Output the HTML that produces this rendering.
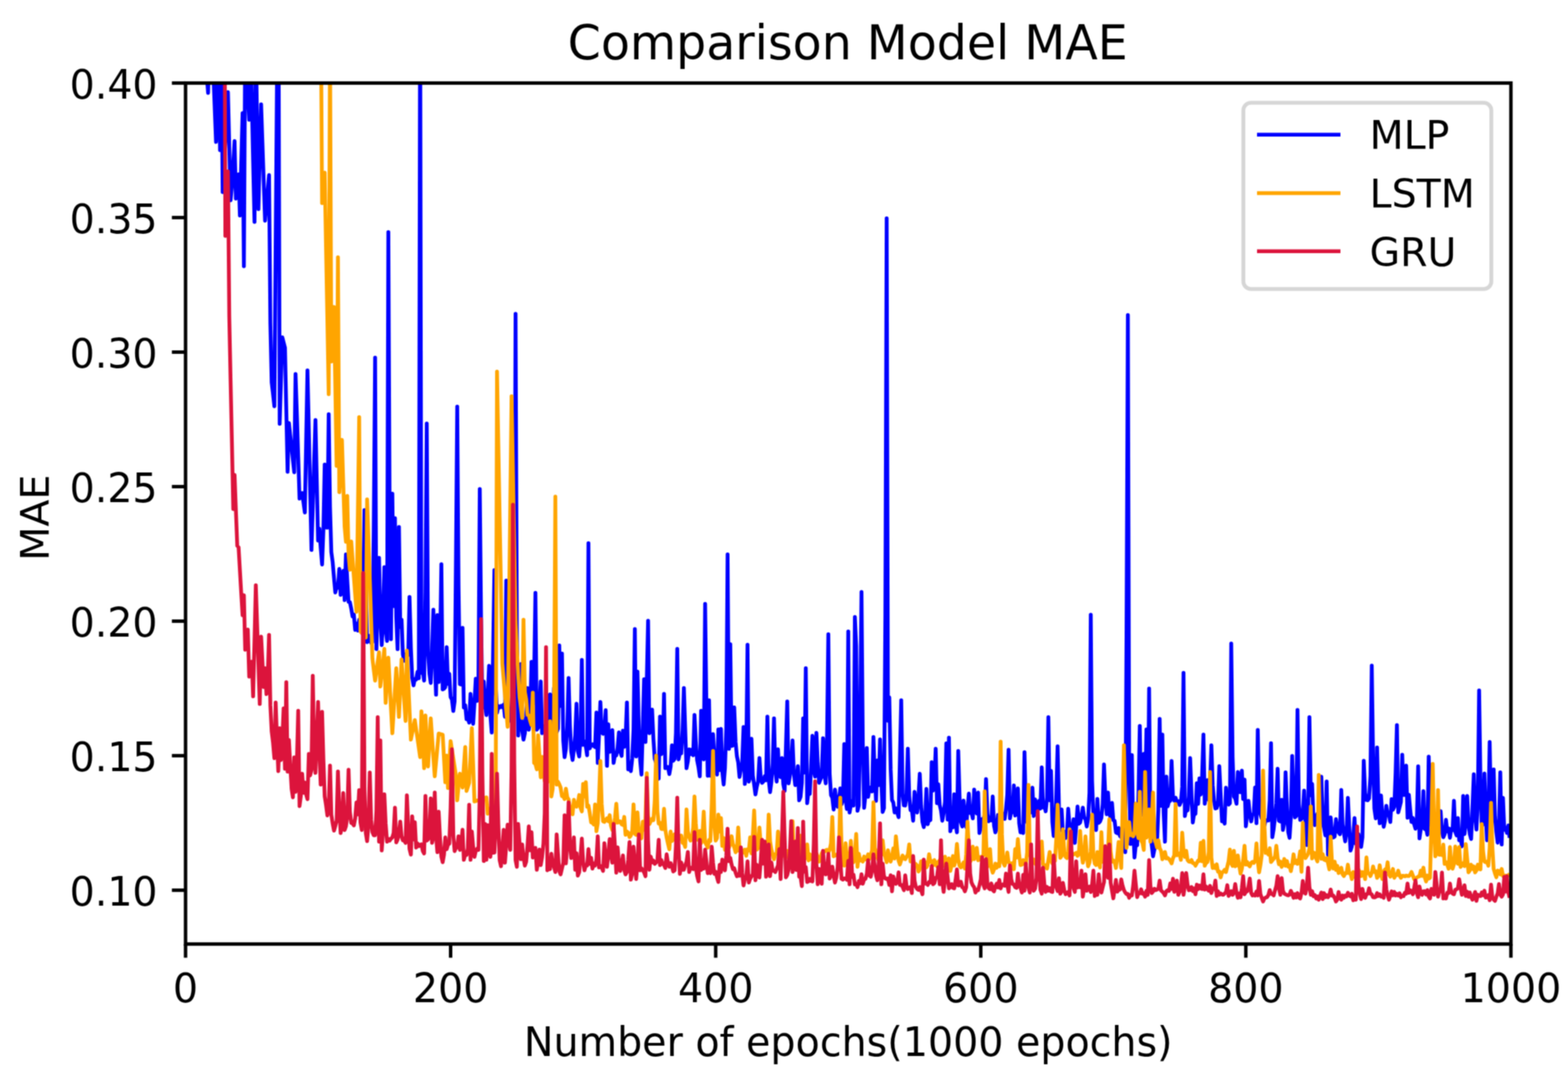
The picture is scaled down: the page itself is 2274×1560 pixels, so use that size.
<!DOCTYPE html>
<html lang="en"><head><meta charset="utf-8"><title>Comparison Model MAE</title>
<style>
html,body{margin:0;padding:0;background:#fff;}
body{width:2274px;height:1560px;overflow:hidden;}
svg{display:block;}
text{font-family:"DejaVu Sans","Liberation Sans",sans-serif;fill:#000;}
.tick{font-size:57.2px;}
.lab{font-size:57.4px;}
.title{font-size:68.8px;}
.leg{font-size:57.2px;}
</style></head><body>
<svg xmlns="http://www.w3.org/2000/svg" width="2274" height="1560" viewBox="0 0 2274 1560">
<defs><filter id="soft" x="0" y="0" width="2274" height="1560" filterUnits="userSpaceOnUse" color-interpolation-filters="sRGB"><feConvolveMatrix order="3" kernelMatrix="1 2 1 2 4 2 1 2 1" divisor="16" edgeMode="duplicate" preserveAlpha="true"/></filter><clipPath id="ax"><rect x="269.1" y="120.4" width="1922.1" height="1248.3"/></clipPath></defs>
<g filter="url(#soft)">
<rect width="2274" height="1560" fill="#fff"/>
<g clip-path="url(#ax)">
<polyline points="296.0,59.2 297.9,84.4 299.9,109.6 301.8,134.7 303.7,59.2 305.6,59.2 307.5,59.2 309.5,108.1 311.4,156.9 313.3,205.8 315.2,132.5 317.1,59.2 319.1,217.7 321.0,59.2 322.9,278.6 324.8,242.3 326.8,206.0 328.7,169.8 330.6,133.5 332.5,212.0 334.4,290.4 336.4,270.1 338.3,237.3 340.2,204.6 342.1,287.9 344.1,270.4 346.0,252.8 347.9,312.4 349.8,238.2 351.8,164.0 353.7,386.0 355.6,59.2 357.5,97.4 359.4,135.5 361.4,173.7 363.3,59.2 365.2,146.7 367.1,234.2 369.1,321.7 371.0,59.2 372.9,181.2 374.8,303.1 376.7,227.2 378.7,151.3 380.6,207.5 382.5,263.8 384.4,320.0 386.4,297.9 388.3,275.8 390.2,253.7 392.1,468.8 394.0,554.4 396.0,571.8 397.9,589.1 399.8,353.2 401.7,117.4 403.6,-118.5 405.6,614.5 407.5,551.7 409.4,488.9 411.3,496.5 413.3,504.1 415.2,594.0 417.1,683.9 419.0,613.3 420.9,631.1 422.9,649.0 424.8,666.9 426.7,684.7 428.6,542.2 430.6,602.4 432.5,662.6 434.4,722.8 436.3,718.8 438.2,714.8 440.2,729.0 442.1,743.1 444.0,640.1 445.9,537.1 447.9,623.8 449.8,710.6 451.7,797.3 453.6,734.5 455.5,671.8 457.5,609.1 459.4,696.4 461.3,783.7 463.2,766.4 465.1,794.0 467.1,818.4 469.0,768.7 470.9,673.4 472.8,764.8 474.8,765.1 476.7,600.6 478.6,735.0 480.5,800.4 482.4,814.5 484.4,838.1 486.3,859.0 488.2,850.8 490.1,851.8 492.1,824.8 494.0,862.4 495.9,858.1 497.8,827.4 499.8,870.0 501.7,803.7 503.6,840.3 505.5,872.6 507.4,873.0 509.4,882.5 511.3,893.7 513.2,891.0 515.1,913.2 517.0,904.0 519.0,914.2 520.9,898.5 522.8,900.8 524.7,908.6 526.7,877.9 528.6,739.4 530.5,846.1 532.4,931.0 534.4,929.1 536.3,921.8 538.2,932.1 540.1,931.1 542.0,769.0 544.0,518.5 545.9,941.1 547.8,875.8 549.7,808.8 551.6,896.4 553.6,935.2 555.5,897.6 557.4,822.3 559.3,913.1 561.3,929.3 563.2,336.6 565.1,754.8 567.0,926.7 569.0,715.7 570.9,878.8 572.8,751.2 574.7,894.3 576.6,941.1 578.6,763.9 580.5,909.1 582.4,898.4 584.3,949.0 586.2,958.0 588.2,948.5 590.1,950.2 592.0,949.9 593.9,865.4 595.9,939.3 597.8,982.7 599.7,993.6 601.6,984.5 603.5,985.1 605.5,974.0 607.4,983.4 609.3,-8.5 611.2,975.4 613.2,973.0 615.1,986.8 617.0,858.5 618.9,614.1 620.8,945.1 622.8,976.6 624.7,990.2 626.6,939.3 628.5,884.1 630.5,953.4 632.4,1007.1 634.3,891.7 636.2,988.8 638.1,945.0 640.1,818.0 642.0,999.5 643.9,998.6 645.8,996.2 647.8,938.2 649.7,991.5 651.6,977.1 653.5,1010.6 655.4,1014.1 657.4,1030.8 659.3,1016.8 661.2,817.2 663.1,589.6 665.0,849.2 667.0,991.9 668.9,992.5 670.8,910.3 672.7,1025.7 674.7,1022.3 676.6,1042.7 678.5,1040.7 680.4,1047.7 682.4,1005.9 684.3,1031.6 686.2,1049.4 688.1,1018.6 690.0,983.9 692.0,1016.2 693.9,983.6 695.8,708.9 697.7,899.0 699.6,1026.1 701.6,988.1 703.5,1022.0 705.4,1036.7 707.3,1010.1 709.3,965.3 711.2,1037.0 713.1,1062.1 715.0,953.3 717.0,826.5 718.9,991.2 720.8,1033.5 722.7,1023.8 724.6,1025.7 726.6,1023.5 728.5,1025.3 730.4,1021.5 732.3,1039.3 734.2,841.8 736.2,1008.4 738.1,1039.5 740.0,1031.3 741.9,1046.7 743.9,1046.0 745.8,962.8 747.7,455.1 749.6,915.6 751.5,1066.3 753.5,1019.5 755.4,962.7 757.3,1059.5 759.2,1072.3 761.2,1063.1 763.1,1038.2 765.0,997.4 766.9,1057.9 768.9,1039.1 770.8,959.4 772.7,1021.6 774.6,982.2 776.5,859.5 778.5,1057.9 780.4,1055.2 782.3,1026.9 784.2,988.1 786.1,1063.0 788.1,1053.1 790.0,1056.3 791.9,1049.5 793.8,1053.8 795.8,1045.0 797.7,1006.7 799.6,1056.4 801.5,1063.0 803.4,997.4 805.4,1048.2 807.3,1061.6 809.2,1056.5 811.1,935.7 813.0,1023.6 815.0,947.5 816.9,1073.8 818.8,1097.7 820.7,1085.8 822.7,1052.6 824.6,983.0 826.5,1050.7 828.4,1089.5 830.4,1101.9 832.3,1086.9 834.2,1066.3 836.1,1020.3 838.0,1088.5 840.0,1096.8 841.9,1071.4 843.8,956.8 845.7,1079.9 847.6,1074.8 849.6,1082.0 851.5,1095.1 853.4,787.6 855.3,1085.0 857.3,1079.5 859.2,1079.1 861.1,1081.6 863.0,1083.2 865.0,1033.0 866.9,1106.1 868.8,1064.1 870.7,1017.7 872.6,1062.0 874.6,1063.8 876.5,1059.6 878.4,1029.6 880.3,1110.3 882.2,1049.9 884.2,1090.0 886.1,1089.1 888.0,1058.4 889.9,1106.1 891.9,1094.4 893.8,1095.1 895.7,1084.2 897.6,1061.7 899.5,1090.0 901.5,1096.0 903.4,1059.2 905.3,1082.7 907.2,1071.2 909.2,1018.6 911.1,1115.4 913.0,1107.1 914.9,1118.0 916.9,1099.7 918.8,1057.7 920.7,912.0 922.6,1096.8 924.5,973.7 926.5,1057.1 928.4,1102.7 930.3,1123.0 932.2,1056.0 934.1,984.7 936.1,1075.7 938.0,986.9 939.9,900.1 941.8,1063.0 943.8,1055.2 945.7,1028.7 947.6,1070.9 949.5,1100.2 951.5,1105.9 953.4,1114.2 955.3,1129.0 957.2,1038.9 959.1,1093.3 961.1,1088.9 963.0,1005.9 964.9,1113.7 966.8,1111.9 968.7,1112.0 970.7,1122.2 972.6,1111.5 974.5,1080.4 976.4,1103.0 978.4,1100.2 980.3,1062.6 982.2,940.7 984.1,1101.0 986.0,1092.0 988.0,1092.1 989.9,1058.6 991.8,997.4 993.7,1056.1 995.6,1113.7 997.6,1103.6 999.5,1086.5 1001.4,1093.4 1003.3,1086.8 1005.3,1095.0 1007.2,1036.4 1009.1,1074.7 1011.0,1102.3 1013.0,1112.3 1014.9,1125.6 1016.8,1030.4 1018.7,1092.8 1020.6,1101.0 1022.6,875.6 1024.5,1027.0 1026.4,1124.7 1028.3,1015.2 1030.2,1124.7 1032.2,1118.4 1034.1,1064.3 1036.0,1095.8 1037.9,1113.9 1039.9,1123.0 1041.8,1057.5 1043.7,1116.4 1045.6,1056.7 1047.5,1118.6 1049.5,1137.4 1051.4,1113.2 1053.3,1055.3 1055.2,803.7 1057.2,1085.8 1059.1,934.0 1061.0,1081.6 1062.9,1080.5 1064.8,1025.4 1066.8,1075.7 1068.7,1096.4 1070.6,1105.4 1072.5,1126.4 1074.5,1115.7 1076.4,1105.7 1078.3,1054.1 1080.2,1136.6 1082.2,1098.6 1084.1,934.8 1086.0,1133.2 1087.9,1126.7 1089.8,1071.0 1091.8,1124.5 1093.7,1137.7 1095.6,1151.8 1097.5,1140.8 1099.5,1132.7 1101.4,1099.0 1103.3,1128.2 1105.2,1134.9 1107.1,1133.1 1109.1,1125.2 1111.0,1131.1 1112.9,1038.9 1114.8,1130.3 1116.8,1148.4 1118.7,1133.8 1120.6,1107.6 1122.5,1041.4 1124.4,1116.7 1126.4,1133.2 1128.3,1086.3 1130.2,1123.9 1132.1,1126.7 1134.0,1099.0 1136.0,1137.0 1137.9,1146.7 1139.8,1084.2 1141.7,1016.9 1143.7,1135.7 1145.6,1124.4 1147.5,1105.9 1149.4,1073.6 1151.3,1121.1 1153.3,1138.3 1155.2,1134.9 1157.1,1110.8 1159.0,1160.3 1161.0,1155.2 1162.9,1135.1 1164.8,1041.4 1166.7,1120.1 1168.6,968.7 1170.6,1164.5 1172.5,1147.4 1174.4,1151.0 1176.3,1111.1 1178.2,1066.8 1180.2,1117.2 1182.1,1126.0 1184.0,1062.6 1185.9,1106.5 1187.9,1134.9 1189.8,1129.9 1191.7,1126.3 1193.6,1070.2 1195.5,1120.1 1197.5,1135.7 1199.4,1070.2 1201.3,919.6 1203.2,1121.1 1205.2,1152.8 1207.1,1156.6 1209.0,1173.8 1210.9,1144.7 1212.8,1159.9 1214.8,1169.6 1216.7,1161.2 1218.6,1143.0 1220.5,1166.0 1222.5,1159.0 1224.4,1078.7 1226.3,1158.6 1228.2,1173.0 1230.2,915.4 1232.1,1178.0 1234.0,1167.1 1235.9,1161.4 1237.8,1167.9 1239.8,894.5 1241.7,936.5 1243.6,1175.5 1245.5,1167.8 1247.5,1033.2 1249.4,858.2 1251.3,1077.5 1253.2,1171.3 1255.1,1152.5 1257.1,1084.6 1259.0,1155.2 1260.9,1143.2 1262.8,1141.6 1264.8,1147.4 1266.7,1068.5 1268.6,1124.5 1270.5,1161.1 1272.4,1102.4 1274.4,1138.2 1276.3,1071.9 1278.2,1134.2 1280.1,1177.2 1282.0,1171.7 1284.0,889.5 1285.9,316.6 1287.8,1044.9 1289.7,1011.0 1291.7,1115.4 1293.6,1159.9 1295.5,1163.5 1297.4,1178.0 1299.3,1171.9 1301.3,1178.5 1303.2,1184.8 1305.1,1100.4 1307.0,1015.2 1309.0,1150.6 1310.9,1167.6 1312.8,1167.9 1314.7,1152.9 1316.6,1085.4 1318.6,1153.5 1320.5,1174.6 1322.4,1173.9 1324.3,1189.9 1326.3,1148.1 1328.2,1165.3 1330.1,1178.0 1332.0,1155.3 1333.9,1121.8 1335.9,1168.8 1337.8,1191.5 1339.7,1199.2 1341.6,1188.7 1343.5,1143.8 1345.5,1195.0 1347.4,1186.1 1349.3,1189.0 1351.2,1104.9 1353.2,1146.2 1355.1,1131.5 1357.0,1085.4 1358.9,1164.5 1360.8,1137.1 1362.8,1167.2 1364.7,1175.2 1366.6,1189.9 1368.5,1179.0 1370.5,1162.6 1372.4,1077.8 1374.3,1188.2 1376.2,1069.4 1378.2,1205.1 1380.1,1193.0 1382.0,1199.5 1383.9,1151.4 1385.8,1194.0 1387.8,1206.8 1389.7,1088.8 1391.6,1154.8 1393.5,1191.8 1395.5,1198.3 1397.4,1160.8 1399.3,1182.5 1401.2,1199.2 1403.1,1173.8 1405.1,1150.6 1407.0,1178.8 1408.9,1177.6 1410.8,1186.5 1412.8,1144.7 1414.7,1173.4 1416.6,1179.5 1418.5,1148.9 1420.4,1207.7 1422.4,1198.1 1424.3,1187.5 1426.2,1188.5 1428.1,1180.6 1430.0,1129.4 1432.0,1180.6 1433.9,1190.7 1435.8,1186.2 1437.7,1189.4 1439.7,1154.8 1441.6,1196.9 1443.5,1206.8 1445.4,1199.9 1447.3,1181.5 1449.3,1182.7 1451.2,1191.1 1453.1,1182.2 1455.0,1179.8 1457.0,1187.3 1458.9,1173.5 1460.8,1152.1 1462.7,1087.1 1464.7,1186.5 1466.6,1175.7 1468.5,1177.6 1470.4,1138.8 1472.3,1182.3 1474.3,1180.2 1476.2,1143.0 1478.1,1193.6 1480.0,1206.8 1482.0,1198.7 1483.9,1207.7 1485.8,1090.5 1487.7,1174.9 1489.6,1192.5 1491.6,1179.6 1493.5,1174.8 1495.4,1177.8 1497.3,1142.1 1499.2,1183.1 1501.2,1159.1 1503.1,1176.8 1505.0,1174.7 1506.9,1161.0 1508.8,1172.2 1510.8,1112.5 1512.7,1170.7 1514.6,1167.7 1516.5,1176.3 1518.5,1156.1 1520.4,1039.7 1522.3,1160.2 1524.2,1117.6 1526.2,1192.0 1528.1,1211.9 1530.0,1205.3 1531.9,1151.9 1533.8,1082.0 1535.8,1171.6 1537.7,1203.4 1539.6,1173.4 1541.5,1208.1 1543.5,1205.7 1545.4,1215.0 1547.3,1210.2 1549.2,1172.6 1551.1,1197.2 1553.1,1202.9 1555.0,1206.6 1556.9,1187.8 1558.8,1222.0 1560.8,1198.0 1562.7,1169.2 1564.6,1194.2 1566.5,1192.4 1568.4,1183.5 1570.4,1170.9 1572.3,1184.9 1574.2,1188.0 1576.1,1198.3 1578.0,1187.6 1580.0,1149.2 1581.9,891.3 1583.8,1131.8 1585.7,1182.0 1587.7,1193.9 1589.6,1203.4 1591.5,1158.2 1593.4,1193.0 1595.3,1191.1 1597.3,1185.7 1599.2,1165.8 1601.1,1108.3 1603.0,1154.6 1605.0,1180.6 1606.9,1148.9 1608.8,1179.9 1610.7,1185.0 1612.7,1164.1 1614.6,1189.1 1616.5,1190.2 1618.4,1206.8 1620.3,1208.0 1622.3,1200.5 1624.2,1212.1 1626.1,1213.9 1628.0,1209.3 1630.0,1217.9 1631.9,1235.6 1633.8,911.6 1635.7,456.7 1637.6,1113.9 1639.6,1223.6 1641.5,1094.8 1643.4,1199.3 1645.3,1243.2 1647.2,1224.5 1649.2,1225.4 1651.1,1151.8 1653.0,1052.4 1654.9,1172.4 1656.9,1181.1 1658.8,1093.0 1660.7,1160.9 1662.6,1057.5 1664.5,1211.9 1666.5,998.3 1668.4,1201.0 1670.3,1225.0 1672.2,1241.5 1674.2,1231.4 1676.1,1219.6 1678.0,1221.7 1679.9,1174.5 1681.8,1042.3 1683.8,1168.3 1685.7,1065.1 1687.6,1177.9 1689.5,1220.3 1691.5,1126.1 1693.4,1169.1 1695.3,1161.7 1697.2,1161.1 1699.1,1103.2 1701.1,1155.0 1703.0,1160.8 1704.9,1156.5 1706.8,1162.6 1708.8,1161.6 1710.7,1167.0 1712.6,1162.9 1714.5,1140.4 1716.4,975.4 1718.4,1183.1 1720.3,1171.1 1722.2,1175.1 1724.1,1154.6 1726.0,1099.0 1728.0,1152.0 1729.9,1192.4 1731.8,1179.1 1733.7,1179.8 1735.7,1135.4 1737.6,1165.4 1739.5,1128.6 1741.4,1151.9 1743.3,1126.5 1745.3,1065.1 1747.2,1165.3 1749.1,1151.8 1751.0,1131.1 1753.0,1159.6 1754.9,1135.9 1756.8,1080.4 1758.7,1138.2 1760.7,1161.0 1762.6,1172.1 1764.5,1171.5 1766.4,1165.3 1768.3,1110.8 1770.3,1152.7 1772.2,1190.7 1774.1,1183.4 1776.0,1194.1 1778.0,1142.1 1779.9,1164.4 1781.8,1166.5 1783.7,1164.5 1785.6,933.1 1787.6,1098.1 1789.5,1154.7 1791.4,1157.7 1793.3,1165.3 1795.2,1119.3 1797.2,1148.1 1799.1,1148.5 1801.0,1117.2 1802.9,1158.4 1804.9,1130.3 1806.8,1197.9 1808.7,1180.9 1810.6,1161.1 1812.5,1179.5 1814.5,1190.9 1816.4,1181.1 1818.3,1179.9 1820.2,1141.8 1822.2,1193.5 1824.1,1058.2 1826.0,1157.0 1827.9,1180.4 1829.8,1186.6 1831.8,1183.7 1833.7,1197.2 1835.6,1189.2 1837.5,1189.6 1839.5,1189.6 1841.4,1160.8 1843.3,1077.6 1845.2,1213.8 1847.1,1202.2 1849.1,1184.7 1851.0,1164.4 1852.9,1114.5 1854.8,1190.0 1856.8,1190.9 1858.7,1159.4 1860.6,1203.2 1862.5,1193.1 1864.4,1119.8 1866.4,1169.8 1868.3,1206.5 1870.2,1214.7 1872.1,1184.8 1874.0,1096.0 1876.0,1156.2 1877.9,1185.0 1879.8,1183.0 1881.7,1029.2 1883.7,1166.1 1885.6,1188.8 1887.5,1187.1 1889.4,1181.0 1891.3,1146.2 1893.3,1194.9 1895.2,1225.2 1897.1,1179.6 1899.0,1039.8 1901.0,1153.0 1902.9,1136.5 1904.8,1186.4 1906.7,1196.2 1908.7,1184.4 1910.6,1179.5 1912.5,1197.5 1914.4,1180.5 1916.3,1126.0 1918.3,1191.4 1920.2,1200.3 1922.1,1211.1 1924.0,1133.0 1926.0,1239.3 1927.9,1222.9 1929.8,1185.0 1931.7,1207.1 1933.6,1214.2 1935.6,1212.9 1937.5,1187.6 1939.4,1200.4 1941.3,1206.7 1943.2,1209.4 1945.2,1145.3 1947.1,1195.3 1949.0,1208.2 1950.9,1219.9 1952.9,1205.1 1954.8,1156.7 1956.7,1197.6 1958.6,1233.1 1960.5,1227.2 1962.5,1212.6 1964.4,1185.9 1966.3,1223.2 1968.2,1209.0 1970.2,1209.5 1972.1,1224.3 1974.0,1227.8 1975.9,1213.8 1977.8,1103.1 1979.8,1149.4 1981.7,1159.9 1983.6,1160.3 1985.5,1157.5 1987.5,1124.8 1989.4,965.0 1991.3,1097.4 1993.2,1172.2 1995.2,1186.5 1997.1,1083.7 1999.0,1159.6 2000.9,1193.5 2002.8,1153.2 2004.8,1182.7 2006.7,1198.8 2008.6,1189.8 2010.5,1168.2 2012.4,1181.5 2014.4,1182.0 2016.3,1191.8 2018.2,1158.5 2020.1,1174.1 2022.1,1169.8 2024.0,1120.6 2025.9,1051.2 2027.8,1177.7 2029.7,1170.5 2031.7,1162.5 2033.6,1094.3 2035.5,1152.5 2037.4,1152.5 2039.3,1110.1 2041.3,1185.6 2043.2,1152.3 2045.1,1173.5 2047.0,1191.8 2049.0,1185.9 2050.9,1194.9 2052.8,1201.5 2054.7,1192.6 2056.7,1111.0 2058.6,1215.5 2060.5,1202.2 2062.4,1199.2 2064.3,1147.1 2066.3,1201.9 2068.2,1200.7 2070.1,1210.3 2072.0,1096.9 2073.9,1172.3 2075.9,1197.7 2077.8,1199.8 2079.7,1191.0 2081.6,1194.7 2083.6,1205.3 2085.5,1193.3 2087.4,1205.5 2089.3,1176.1 2091.2,1206.4 2093.2,1213.8 2095.1,1209.5 2097.0,1188.5 2098.9,1205.6 2100.9,1201.0 2102.8,1214.7 2104.7,1201.8 2106.6,1203.5 2108.6,1161.1 2110.5,1205.9 2112.4,1211.1 2114.3,1185.9 2116.2,1218.2 2118.2,1214.7 2120.1,1227.0 2122.0,1154.1 2123.9,1209.2 2125.8,1190.2 2127.8,1154.1 2129.7,1195.7 2131.6,1209.4 2133.5,1216.4 2135.5,1169.9 2137.4,1122.4 2139.3,1183.1 2141.2,1202.8 2143.2,1163.0 2145.1,1001.1 2147.0,1129.3 2148.9,1197.6 2150.8,1195.3 2152.8,1121.6 2154.7,1182.8 2156.6,1218.2 2158.5,1184.9 2160.4,1075.8 2162.4,1180.4 2164.3,1190.0 2166.2,1115.4 2168.1,1184.5 2170.1,1206.5 2172.0,1221.7 2173.9,1197.6 2175.8,1119.8 2177.8,1224.3 2179.7,1156.7 2181.6,1203.0 2183.5,1199.8 2185.4,1207.6 2187.4,1196.7 2189.3,1214.7" fill="none" stroke="#0000ff" stroke-width="5.5" stroke-linejoin="round" stroke-linecap="butt"/>
<polyline points="463.2,-313.1 465.1,-9.2 467.1,294.6 469.0,272.5 470.9,250.3 472.8,357.3 474.8,464.3 476.7,571.4 478.6,59.2 480.5,524.0 482.4,484.4 484.4,444.9 486.3,560.2 488.2,675.4 490.1,373.0 492.1,713.5 494.0,675.7 495.9,637.8 497.8,700.6 499.8,763.4 501.7,785.4 503.6,719.0 505.5,804.0 507.4,826.0 509.4,785.0 511.3,810.5 513.2,836.0 515.1,861.5 517.0,887.0 519.0,745.9 520.9,604.8 522.8,915.7 524.7,917.8 526.7,920.0 528.6,922.1 530.5,924.2 532.4,724.1 534.4,781.8 536.3,839.4 538.2,897.0 540.1,954.6 542.0,970.7 544.0,986.8 545.9,973.1 547.8,959.5 549.7,945.8 551.6,995.3 553.6,977.1 555.5,958.9 557.4,940.7 559.3,1019.0 561.3,986.2 563.2,953.4 565.1,989.9 567.0,1026.5 569.0,1063.0 570.9,1031.5 572.8,1000.1 574.7,968.7 576.6,1004.0 578.6,1039.3 580.5,997.6 582.4,956.0 584.3,985.7 586.2,1015.5 588.2,1045.2 590.1,943.3 592.0,986.3 593.9,1029.3 595.9,1072.3 597.8,1062.8 599.7,1053.4 601.6,1044.0 603.5,1057.4 605.5,1070.8 607.4,1084.2 609.3,1097.7 611.2,1031.3 613.2,1072.5 615.1,1113.7 617.0,1037.2 618.9,1074.2 620.8,1111.2 622.8,1076.3 624.7,1041.4 626.6,1069.5 628.5,1097.5 630.5,1125.6 632.4,1104.9 634.3,1084.2 636.2,1063.4 638.1,1064.0 640.1,1064.6 642.0,1065.1 643.9,1099.6 645.8,1134.0 647.8,1095.6 649.7,1142.5 651.6,1108.5 653.5,1074.4 655.4,1086.9 657.4,1099.4 659.3,1111.9 661.2,1124.3 663.1,1160.3 665.0,1140.0 667.0,1121.8 668.9,1131.7 670.8,1141.7 672.7,1112.3 674.7,1082.9 676.6,1146.7 678.5,1140.8 680.4,1134.9 682.4,1095.3 684.3,1055.8 686.2,1108.9 688.1,1162.0 690.0,1161.3 692.0,1160.6 693.9,1160.0 695.8,1159.3 697.7,1158.7 699.6,1158.0 701.6,1157.3 703.5,1156.7 705.4,1156.0 707.3,1179.7 709.3,1176.3 711.2,1172.9 713.1,1169.5 715.0,1166.1 717.0,1162.7 718.9,1159.2 720.8,538.8 722.7,644.6 724.6,750.4 726.6,856.1 728.5,961.9 730.4,984.8 732.3,1007.8 734.2,1030.7 736.2,1053.7 738.1,893.9 740.0,734.1 741.9,574.4 743.9,683.6 745.8,792.8 747.7,902.0 749.6,940.1 751.5,978.2 753.5,1010.3 755.4,1025.6 757.3,1041.0 759.2,898.4 761.2,1003.5 763.1,1014.0 765.0,1036.4 766.9,1037.3 768.9,1045.2 770.8,1051.2 772.7,1004.2 774.6,1106.1 776.5,1107.6 778.5,1115.4 780.4,1066.0 782.3,1094.8 784.2,1126.9 786.1,1097.3 788.1,1121.1 790.0,1132.5 791.9,1129.3 793.8,1134.3 795.8,1121.3 797.7,1045.7 799.6,1154.8 801.5,1144.1 803.4,1045.8 805.4,719.9 807.3,1137.4 809.2,1133.2 811.1,1137.0 813.0,1141.8 815.0,1154.3 816.9,1154.3 818.8,1158.5 820.7,1143.5 822.7,1156.0 824.6,1159.0 826.5,1171.7 828.4,1169.9 830.4,1180.6 832.3,1159.4 834.2,1168.2 836.1,1169.6 838.0,1165.0 840.0,1152.6 841.9,1171.1 843.8,1176.3 845.7,1136.5 847.6,1154.7 849.6,1134.0 851.5,1169.6 853.4,1168.0 855.3,1178.8 857.3,1192.4 859.2,1192.8 861.1,1195.3 863.0,1166.2 865.0,1205.1 866.9,1193.5 868.8,1156.3 870.7,1103.2 872.6,1165.4 874.6,1190.7 876.5,1191.6 878.4,1189.0 880.3,1186.3 882.2,1190.7 884.2,1181.9 886.1,1197.1 888.0,1203.4 889.9,1199.7 891.9,1185.6 893.8,1165.3 895.7,1192.8 897.6,1190.9 899.5,1190.8 901.5,1195.0 903.4,1196.0 905.3,1184.4 907.2,1210.2 909.2,1205.5 911.1,1207.4 913.0,1213.6 914.9,1211.4 916.9,1203.9 918.8,1166.2 920.7,1208.9 922.6,1210.5 924.5,1177.7 926.5,1206.2 928.4,1210.2 930.3,1215.3 932.2,1191.2 934.1,1203.0 936.1,1187.4 938.0,1121.0 939.9,1182.3 941.8,1194.9 943.8,1190.5 945.7,1187.0 947.6,1189.0 949.5,1162.3 951.5,1095.6 953.4,1175.7 955.3,1194.1 957.2,1192.8 959.1,1201.7 961.1,1202.0 963.0,1172.6 964.9,1202.7 966.8,1214.1 968.7,1222.9 970.7,1231.3 972.6,1205.6 974.5,1219.3 976.4,1217.0 978.4,1209.5 980.3,1215.1 982.2,1215.3 984.1,1211.0 986.0,1215.8 988.0,1211.4 989.9,1221.9 991.8,1221.6 993.7,1228.0 995.6,1173.4 997.6,1205.2 999.5,1214.0 1001.4,1218.7 1003.3,1216.9 1005.3,1199.5 1007.2,1154.8 1009.1,1193.9 1011.0,1217.6 1013.0,1217.6 1014.9,1204.7 1016.8,1222.5 1018.7,1210.7 1020.6,1176.8 1022.6,1221.3 1024.5,1224.6 1026.4,1228.8 1028.3,1217.9 1030.2,1219.4 1032.2,1166.5 1034.1,1088.8 1036.0,1194.0 1037.9,1218.7 1039.9,1214.9 1041.8,1181.0 1043.7,1205.5 1045.6,1186.1 1047.5,1226.3 1049.5,1214.9 1051.4,1232.2 1053.3,1224.6 1055.2,1227.3 1057.2,1229.0 1059.1,1223.2 1061.0,1212.4 1062.9,1223.9 1064.8,1228.3 1066.8,1235.6 1068.7,1232.3 1070.6,1199.7 1072.5,1233.7 1074.5,1230.4 1076.4,1237.0 1078.3,1233.9 1080.2,1231.8 1082.2,1240.7 1084.1,1231.3 1086.0,1232.9 1087.9,1214.0 1089.8,1237.3 1091.8,1212.2 1093.7,1175.1 1095.6,1220.4 1097.5,1231.8 1099.5,1229.8 1101.4,1199.7 1103.3,1224.5 1105.2,1227.9 1107.1,1229.1 1109.1,1238.8 1111.0,1237.7 1112.9,1233.9 1114.8,1181.0 1116.8,1219.7 1118.7,1231.4 1120.6,1239.2 1122.5,1245.7 1124.4,1238.3 1126.4,1237.1 1128.3,1205.6 1130.2,1229.2 1132.1,1241.1 1134.0,1241.5 1136.0,1236.2 1137.9,1236.1 1139.8,1243.3 1141.7,1233.8 1143.7,1239.8 1145.6,1242.1 1147.5,1228.2 1149.4,1190.4 1151.3,1240.6 1153.3,1238.3 1155.2,1237.6 1157.1,1233.9 1159.0,1242.9 1161.0,1211.5 1162.9,1240.1 1164.8,1240.5 1166.7,1238.4 1168.6,1244.1 1170.6,1224.2 1172.5,1247.4 1174.4,1238.4 1176.3,1245.7 1178.2,1239.7 1180.2,1241.1 1182.1,1241.4 1184.0,1237.3 1185.9,1242.1 1187.9,1249.1 1189.8,1246.2 1191.7,1237.4 1193.6,1234.2 1195.5,1234.9 1197.5,1232.9 1199.4,1232.1 1201.3,1236.1 1203.2,1232.2 1205.2,1222.5 1207.1,1184.4 1209.0,1241.5 1210.9,1240.3 1212.8,1239.0 1214.8,1241.2 1216.7,1236.7 1218.6,1156.5 1220.5,1230.3 1222.5,1247.1 1224.4,1255.0 1226.3,1222.5 1228.2,1247.1 1230.2,1252.6 1232.1,1245.2 1234.0,1219.1 1235.9,1247.9 1237.8,1249.9 1239.8,1237.3 1241.7,1209.0 1243.6,1256.7 1245.5,1237.7 1247.5,1247.8 1249.4,1246.4 1251.3,1249.1 1253.2,1241.8 1255.1,1246.0 1257.1,1244.3 1259.0,1238.6 1260.9,1245.3 1262.8,1239.2 1264.8,1232.5 1266.7,1163.3 1268.6,1229.2 1270.5,1236.4 1272.4,1243.6 1274.4,1247.9 1276.3,1242.2 1278.2,1239.6 1280.1,1218.3 1282.0,1236.3 1284.0,1242.7 1285.9,1250.0 1287.8,1232.7 1289.7,1243.3 1291.7,1249.1 1293.6,1241.8 1295.5,1230.1 1297.4,1244.7 1299.3,1212.4 1301.3,1232.4 1303.2,1247.9 1305.1,1253.3 1307.0,1247.1 1309.0,1240.3 1310.9,1244.5 1312.8,1245.7 1314.7,1242.1 1316.6,1239.0 1318.6,1224.2 1320.5,1249.0 1322.4,1246.9 1324.3,1246.2 1326.3,1254.7 1328.2,1252.7 1330.1,1255.0 1332.0,1263.5 1333.9,1260.3 1335.9,1248.7 1337.8,1255.8 1339.7,1252.4 1341.6,1249.9 1343.5,1257.6 1345.5,1254.2 1347.4,1238.6 1349.3,1249.4 1351.2,1248.5 1353.2,1254.7 1355.1,1247.0 1357.0,1253.0 1358.9,1255.9 1360.8,1249.3 1362.8,1247.5 1364.7,1244.3 1366.6,1250.2 1368.5,1255.3 1370.5,1242.0 1372.4,1253.9 1374.3,1257.8 1376.2,1244.5 1378.2,1262.7 1380.1,1254.3 1382.0,1241.1 1383.9,1254.9 1385.8,1247.0 1387.8,1223.4 1389.7,1245.5 1391.6,1255.1 1393.5,1257.6 1395.5,1255.0 1397.4,1250.4 1399.3,1259.3 1401.2,1238.7 1403.1,1191.2 1405.1,1228.6 1407.0,1249.5 1408.9,1245.7 1410.8,1227.6 1412.8,1245.7 1414.7,1240.2 1416.6,1229.3 1418.5,1247.3 1420.4,1242.3 1422.4,1246.4 1424.3,1241.7 1426.2,1240.2 1428.1,1147.2 1430.0,1217.0 1432.0,1256.7 1433.9,1253.7 1435.8,1231.0 1437.7,1258.5 1439.7,1265.2 1441.6,1260.5 1443.5,1252.1 1445.4,1258.2 1447.3,1252.5 1449.3,1255.9 1451.2,1075.3 1453.1,1209.9 1455.0,1251.1 1457.0,1255.0 1458.9,1249.1 1460.8,1236.0 1462.7,1249.8 1464.7,1251.7 1466.6,1252.2 1468.5,1251.1 1470.4,1260.1 1472.3,1231.0 1474.3,1243.4 1476.2,1216.6 1478.1,1239.9 1480.0,1254.2 1482.0,1253.6 1483.9,1247.0 1485.8,1252.7 1487.7,1253.1 1489.6,1236.0 1491.6,1137.9 1493.5,1238.2 1495.4,1244.5 1497.3,1250.5 1499.2,1246.1 1501.2,1251.7 1503.1,1254.1 1505.0,1245.2 1506.9,1245.8 1508.8,1242.2 1510.8,1220.0 1512.7,1252.8 1514.6,1257.0 1516.5,1254.5 1518.5,1259.3 1520.4,1246.8 1522.3,1235.2 1524.2,1247.2 1526.2,1251.8 1528.1,1243.8 1530.0,1248.0 1531.9,1215.9 1533.8,1166.7 1535.8,1214.5 1537.7,1243.8 1539.6,1241.0 1541.5,1202.2 1543.5,1234.8 1545.4,1242.2 1547.3,1244.0 1549.2,1235.0 1551.1,1202.2 1553.1,1233.3 1555.0,1239.2 1556.9,1238.8 1558.8,1237.8 1560.8,1236.5 1562.7,1240.8 1564.6,1238.2 1566.5,1204.7 1568.4,1236.0 1570.4,1250.8 1572.3,1242.3 1574.2,1212.4 1576.1,1240.0 1578.0,1255.9 1580.0,1250.8 1581.9,1234.2 1583.8,1181.0 1585.7,1240.5 1587.7,1251.9 1589.6,1254.2 1591.5,1235.2 1593.4,1250.7 1595.3,1257.6 1597.3,1206.4 1599.2,1249.6 1601.1,1247.7 1603.0,1244.4 1605.0,1247.9 1606.9,1234.9 1608.8,1187.8 1610.7,1234.4 1612.7,1249.2 1614.6,1247.4 1616.5,1249.8 1618.4,1258.4 1620.3,1241.6 1622.3,1220.8 1624.2,1240.6 1626.1,1258.4 1628.0,1173.4 1630.0,1080.4 1631.9,1164.5 1633.8,1229.2 1635.7,1208.4 1637.6,1192.0 1639.6,1211.0 1641.5,1209.1 1643.4,1212.4 1645.3,1205.5 1647.2,1165.0 1649.2,1207.2 1651.1,1215.1 1653.0,1148.0 1654.9,1218.7 1656.9,1222.2 1658.8,1232.2 1660.7,1119.3 1662.6,1214.5 1664.5,1199.8 1666.5,1173.4 1668.4,1220.3 1670.3,1192.1 1672.2,1148.9 1674.2,1215.5 1676.1,1221.3 1678.0,1228.8 1679.9,1218.3 1681.8,1229.3 1683.8,1233.6 1685.7,1245.7 1687.6,1242.8 1689.5,1235.2 1691.5,1244.6 1693.4,1243.7 1695.3,1245.5 1697.2,1248.0 1699.1,1251.7 1701.1,1244.2 1703.0,1240.2 1704.9,1165.8 1706.8,1240.0 1708.8,1237.0 1710.7,1238.0 1712.6,1246.6 1714.5,1207.3 1716.4,1233.2 1718.4,1242.4 1720.3,1233.5 1722.2,1246.7 1724.1,1249.1 1726.0,1249.5 1728.0,1247.0 1729.9,1251.4 1731.8,1251.7 1733.7,1255.0 1735.7,1251.2 1737.6,1247.6 1739.5,1248.1 1741.4,1221.7 1743.3,1248.7 1745.3,1219.1 1747.2,1255.0 1749.1,1250.9 1751.0,1250.0 1753.0,1235.4 1754.9,1119.3 1756.8,1243.4 1758.7,1258.4 1760.7,1254.8 1762.6,1258.7 1764.5,1253.0 1766.4,1263.8 1768.3,1263.5 1770.3,1272.0 1772.2,1265.2 1774.1,1263.8 1776.0,1261.2 1778.0,1264.3 1779.9,1256.3 1781.8,1248.4 1783.7,1231.8 1785.6,1251.7 1787.6,1255.3 1789.5,1233.5 1791.4,1255.9 1793.3,1254.9 1795.2,1240.3 1797.2,1254.5 1799.1,1266.5 1801.0,1259.7 1802.9,1246.5 1804.9,1226.3 1806.8,1253.5 1808.7,1249.6 1810.6,1254.1 1812.5,1256.0 1814.5,1250.9 1816.4,1249.6 1818.3,1251.1 1820.2,1247.7 1822.2,1222.8 1824.1,1248.2 1826.0,1264.8 1827.9,1254.3 1829.8,1239.8 1831.8,1117.3 1833.7,1196.3 1835.6,1236.6 1837.5,1234.0 1839.5,1239.0 1841.4,1229.8 1843.3,1249.8 1845.2,1247.3 1847.1,1245.2 1849.1,1241.5 1851.0,1226.3 1852.9,1243.9 1854.8,1253.0 1856.8,1249.2 1858.7,1256.9 1860.6,1253.0 1862.5,1245.4 1864.4,1255.2 1866.4,1248.3 1868.3,1256.5 1870.2,1255.0 1872.1,1263.0 1874.0,1253.3 1876.0,1238.6 1877.9,1251.4 1879.8,1247.5 1881.7,1252.5 1883.7,1245.9 1885.6,1234.2 1887.5,1263.9 1889.4,1192.9 1891.3,1238.7 1893.3,1243.9 1895.2,1241.0 1897.1,1237.9 1899.0,1229.8 1901.0,1169.2 1902.9,1244.6 1904.8,1235.9 1906.7,1236.9 1908.7,1244.4 1910.6,1249.0 1912.5,1123.4 1914.4,1208.6 1916.3,1245.0 1918.3,1238.3 1920.2,1246.3 1922.1,1247.1 1924.0,1244.2 1926.0,1251.6 1927.9,1260.4 1929.8,1213.1 1931.7,1249.9 1933.6,1259.1 1935.6,1249.2 1937.5,1261.3 1939.4,1255.3 1941.3,1265.7 1943.2,1264.0 1945.2,1258.0 1947.1,1267.6 1949.0,1270.1 1950.9,1265.7 1952.9,1265.9 1954.8,1253.6 1956.7,1266.1 1958.6,1266.1 1960.5,1274.5 1962.5,1264.2 1964.4,1271.4 1966.3,1268.2 1968.2,1263.9 1970.2,1260.8 1972.1,1264.7 1974.0,1270.1 1975.9,1264.3 1977.8,1266.2 1979.8,1274.5 1981.7,1243.0 1983.6,1266.0 1985.5,1266.3 1987.5,1270.1 1989.4,1265.2 1991.3,1256.2 1993.2,1264.1 1995.2,1263.2 1997.1,1272.7 1999.0,1269.7 2000.9,1254.5 2002.8,1267.3 2004.8,1274.5 2006.7,1264.3 2008.6,1260.5 2010.5,1262.8 2012.4,1250.1 2014.4,1268.0 2016.3,1270.9 2018.2,1267.6 2020.1,1259.8 2022.1,1272.7 2024.0,1268.2 2025.9,1268.6 2027.8,1262.4 2029.7,1269.2 2031.7,1272.7 2033.6,1269.8 2035.5,1269.8 2037.4,1270.5 2039.3,1269.4 2041.3,1270.1 2043.2,1270.1 2045.1,1268.1 2047.0,1264.2 2049.0,1269.2 2050.9,1274.5 2052.8,1273.8 2054.7,1272.4 2056.7,1270.9 2058.6,1270.5 2060.5,1262.4 2062.4,1269.9 2064.3,1258.0 2066.3,1271.9 2068.2,1278.0 2070.1,1269.4 2072.0,1273.8 2073.9,1272.7 2075.9,1197.1 2077.8,1107.6 2079.7,1196.7 2081.6,1241.4 2083.6,1234.8 2085.5,1145.4 2087.4,1239.3 2089.3,1233.3 2091.2,1239.7 2093.2,1224.6 2095.1,1252.5 2097.0,1249.9 2098.9,1253.6 2100.9,1259.5 2102.8,1228.1 2104.7,1255.2 2106.6,1259.5 2108.6,1252.9 2110.5,1227.2 2112.4,1249.5 2114.3,1252.3 2116.2,1228.1 2118.2,1256.9 2120.1,1254.1 2122.0,1251.4 2123.9,1255.7 2125.8,1223.7 2127.8,1245.3 2129.7,1264.8 2131.6,1262.0 2133.5,1253.6 2135.5,1260.0 2137.4,1256.2 2139.3,1264.8 2141.2,1262.0 2143.2,1253.6 2145.1,1259.6 2147.0,1260.4 2148.9,1194.7 2150.8,1233.8 2152.8,1249.0 2154.7,1250.1 2156.6,1249.2 2158.5,1255.1 2160.4,1229.5 2162.4,1163.9 2164.3,1228.0 2166.2,1259.8 2168.1,1266.3 2170.1,1271.8 2172.0,1262.3 2173.9,1263.1 2175.8,1267.7 2177.8,1259.8 2179.7,1270.1 2181.6,1270.0 2183.5,1269.4 2185.4,1270.0 2187.4,1269.2 2189.3,1266.8" fill="none" stroke="#ffa500" stroke-width="5.5" stroke-linejoin="round" stroke-linecap="butt"/>
<polyline points="324.8,-313.1 326.8,342.0 328.7,295.3 330.6,248.6 332.5,458.6 334.4,551.8 336.4,644.9 338.3,738.0 340.2,688.6 342.1,740.0 344.1,791.3 346.0,793.5 347.9,826.4 349.8,859.2 351.8,892.0 353.7,862.9 355.6,942.0 357.5,927.4 359.4,912.8 361.4,980.9 363.3,970.1 365.2,959.4 367.1,1009.6 369.1,929.1 371.0,848.5 372.9,905.9 374.8,963.3 376.7,1020.6 378.7,923.0 380.6,959.5 382.5,996.1 384.4,968.7 386.4,1006.3 388.3,981.6 390.2,920.4 392.1,1022.9 394.0,1060.5 396.0,1077.0 397.9,1099.3 399.8,1018.6 401.7,1072.1 403.6,1118.0 405.6,1055.8 407.5,1101.9 409.4,1073.9 411.3,1027.0 413.3,1114.6 415.2,989.0 417.1,1118.8 419.0,1072.8 420.9,1108.9 422.9,1143.7 424.8,1156.0 426.7,1098.1 428.6,1148.1 430.6,1104.0 432.5,1030.4 434.4,1168.7 436.3,1154.0 438.2,1121.8 440.2,1149.4 442.1,1134.5 444.0,1151.8 445.9,1158.6 447.9,1093.0 449.8,1124.2 451.7,1116.3 453.6,979.7 455.5,1083.3 457.5,1120.5 459.4,1071.9 461.3,1017.7 463.2,1088.2 465.1,1137.4 467.1,1032.1 469.0,1101.0 470.9,1154.6 472.8,1166.8 474.8,1182.3 476.7,1173.0 478.6,1110.0 480.5,1181.0 482.4,1193.7 484.4,1204.3 486.3,1197.5 488.2,1189.7 490.1,1118.4 492.1,1171.8 494.0,1207.7 495.9,1197.2 497.8,1149.8 499.8,1203.4 501.7,1197.8 503.6,1184.5 505.5,1115.9 507.4,1176.6 509.4,1193.2 511.3,1193.8 513.2,1196.7 515.1,1186.5 517.0,1163.3 519.0,1180.8 520.9,1145.5 522.8,1192.5 524.7,1203.4 526.7,830.8 528.6,1142.7 530.5,1207.9 532.4,1219.5 534.4,1196.0 536.3,1120.1 538.2,1188.2 540.1,1206.5 542.0,1211.0 544.0,1210.9 545.9,1175.3 547.8,1039.7 549.7,1220.3 551.6,1073.6 553.6,1233.0 555.5,1205.1 557.4,1151.4 559.3,1193.9 561.3,1220.3 563.2,1216.2 565.1,1218.7 567.0,1216.0 569.0,1214.0 570.9,1207.5 572.8,1170.9 574.7,1221.2 576.6,1217.3 578.6,1207.9 580.5,1191.2 582.4,1212.4 584.3,1218.4 586.2,1218.8 588.2,1222.0 590.1,1153.1 592.0,1197.8 593.9,1230.9 595.9,1239.0 597.8,1183.6 599.7,1217.0 601.6,1192.0 603.5,1228.8 605.5,1222.8 607.4,1226.7 609.3,1224.8 611.2,1224.1 613.2,1233.9 615.1,1237.3 617.0,1154.0 618.9,1218.7 620.8,1217.0 622.8,1209.2 624.7,1157.4 626.6,1222.0 628.5,1212.8 630.5,1148.9 632.4,1211.8 634.3,1235.6 636.2,1176.8 638.1,1214.0 640.1,1242.2 642.0,1250.0 643.9,1239.2 645.8,1214.0 647.8,1231.3 649.7,1224.8 651.6,1223.1 653.5,1171.3 655.4,1086.3 657.4,1210.1 659.3,1233.9 661.2,1229.5 663.1,1228.6 665.0,1212.4 667.0,1232.2 668.9,1221.9 670.8,1203.0 672.7,1246.6 674.7,1239.0 676.6,1239.5 678.5,1229.7 680.4,1166.7 682.4,1246.6 684.3,1205.6 686.2,1227.9 688.1,1242.3 690.0,1233.6 692.0,1230.4 693.9,1232.2 695.8,1147.0 697.7,897.6 699.6,1120.8 701.6,1248.3 703.5,1194.6 705.4,1246.6 707.3,1196.3 709.3,1233.8 711.2,1242.3 713.1,1093.0 715.0,1236.4 717.0,1236.0 718.9,1196.7 720.8,1121.8 722.7,1194.0 724.6,1246.8 726.6,1255.9 728.5,1230.9 730.4,1203.0 732.3,1250.8 734.2,1225.4 736.2,1195.4 738.1,1217.3 740.0,1232.2 741.9,1114.5 743.9,731.7 745.8,1103.9 747.7,1246.9 749.6,1256.7 751.5,1194.6 753.5,1222.8 755.4,1245.7 757.3,1224.2 759.2,1243.0 761.2,1255.0 763.1,1249.3 765.0,1226.5 766.9,1198.0 768.9,1232.8 770.8,1206.4 772.7,1243.2 774.6,1240.2 776.5,1229.3 778.5,1261.0 780.4,1248.5 782.3,1231.8 784.2,1254.2 786.1,1243.0 788.1,1223.4 790.0,1179.0 791.9,938.2 793.8,1261.8 795.8,1256.5 797.7,1260.1 799.6,1237.7 801.5,1253.6 803.4,1256.6 805.4,1264.3 807.3,1209.8 809.2,1238.1 811.1,1263.2 813.0,1267.7 815.0,1259.1 816.9,1251.0 818.8,1181.9 820.7,1251.7 822.7,1224.4 824.6,1163.3 826.5,1220.3 828.4,1244.0 830.4,1241.4 832.3,1214.0 834.2,1261.0 836.1,1236.9 838.0,1269.4 840.0,1264.5 841.9,1241.7 843.8,1215.7 845.7,1249.1 847.6,1261.8 849.6,1254.2 851.5,1254.8 853.4,1231.0 855.3,1252.5 857.3,1243.7 859.2,1259.3 861.1,1252.1 863.0,1254.9 865.0,1246.1 866.9,1212.4 868.8,1257.6 870.7,1255.5 872.6,1257.8 874.6,1262.7 876.5,1222.5 878.4,1244.8 880.3,1256.7 882.2,1239.1 884.2,1216.6 886.1,1239.5 888.0,1250.8 889.9,1194.6 891.9,1228.5 893.8,1265.2 895.7,1228.4 897.6,1251.5 899.5,1262.7 901.5,1252.9 903.4,1240.3 905.3,1261.3 907.2,1267.7 909.2,1264.4 911.1,1246.3 913.0,1220.8 914.9,1275.3 916.9,1266.1 918.8,1227.6 920.7,1254.7 922.6,1274.5 924.5,1251.7 926.5,1209.8 928.4,1261.8 930.3,1258.9 932.2,1261.6 934.1,1264.8 936.1,1270.3 938.0,1127.7 939.9,1219.6 941.8,1261.0 943.8,1242.0 945.7,1250.2 947.6,1247.7 949.5,1252.5 951.5,1250.6 953.4,1247.2 955.3,1217.4 957.2,1254.2 959.1,1247.0 961.1,1252.5 963.0,1253.9 964.9,1258.4 966.8,1238.6 968.7,1250.8 970.7,1256.7 972.6,1251.3 974.5,1256.4 976.4,1263.5 978.4,1261.8 980.3,1226.3 982.2,1156.5 984.1,1230.8 986.0,1266.9 988.0,1250.4 989.9,1261.1 991.8,1261.0 993.7,1254.2 995.6,1249.4 997.6,1235.2 999.5,1264.3 1001.4,1258.0 1003.3,1259.1 1005.3,1260.1 1007.2,1206.4 1009.1,1257.8 1011.0,1269.8 1013.0,1277.9 1014.9,1217.4 1016.8,1261.3 1018.7,1259.0 1020.6,1259.3 1022.6,1231.8 1024.5,1249.4 1026.4,1266.0 1028.3,1264.4 1030.2,1266.0 1032.2,1227.6 1034.1,1251.0 1036.0,1266.9 1037.9,1263.9 1039.9,1272.2 1041.8,1278.7 1043.7,1253.8 1045.6,1264.3 1047.5,1246.2 1049.5,1257.6 1051.4,1261.8 1053.3,1240.4 1055.2,1201.4 1057.2,1248.6 1059.1,1243.7 1061.0,1253.5 1062.9,1260.1 1064.8,1258.9 1066.8,1265.2 1068.7,1270.3 1070.6,1267.3 1072.5,1269.7 1074.5,1228.4 1076.4,1265.7 1078.3,1283.8 1080.2,1275.5 1082.2,1271.0 1084.1,1248.7 1086.0,1279.6 1087.9,1273.8 1089.8,1271.0 1091.8,1267.0 1093.7,1213.2 1095.6,1276.2 1097.5,1253.8 1099.5,1270.6 1101.4,1272.0 1103.3,1247.1 1105.2,1217.4 1107.1,1252.1 1109.1,1220.0 1111.0,1271.1 1112.9,1262.7 1114.8,1224.2 1116.8,1270.3 1118.7,1250.4 1120.6,1262.5 1122.5,1262.4 1124.4,1264.3 1126.4,1259.4 1128.3,1254.8 1130.2,1231.0 1132.1,1274.5 1134.0,1215.3 1136.0,1148.0 1137.9,1212.9 1139.8,1272.0 1141.7,1268.6 1143.7,1260.6 1145.6,1232.2 1147.5,1190.4 1149.4,1264.3 1151.3,1255.9 1153.3,1220.0 1155.2,1261.3 1157.1,1200.5 1159.0,1271.1 1161.0,1271.3 1162.9,1284.7 1164.8,1191.2 1166.7,1263.7 1168.6,1257.2 1170.6,1278.7 1172.5,1277.8 1174.4,1274.1 1176.3,1277.2 1178.2,1277.9 1180.2,1222.8 1182.1,1132.8 1184.0,1252.1 1185.9,1282.1 1187.9,1259.7 1189.8,1271.6 1191.7,1281.3 1193.6,1233.5 1195.5,1257.7 1197.5,1267.7 1199.4,1266.5 1201.3,1237.7 1203.2,1273.7 1205.2,1269.3 1207.1,1256.4 1209.0,1269.6 1210.9,1279.6 1212.8,1272.5 1214.8,1257.7 1216.7,1214.0 1218.6,1245.5 1220.5,1274.2 1222.5,1275.3 1224.4,1273.5 1226.3,1273.7 1228.2,1275.5 1230.2,1247.9 1232.1,1282.1 1234.0,1229.3 1235.9,1271.4 1237.8,1268.2 1239.8,1282.3 1241.7,1281.5 1243.6,1286.3 1245.5,1277.4 1247.5,1280.6 1249.4,1267.4 1251.3,1281.3 1253.2,1275.0 1255.1,1274.2 1257.1,1267.0 1259.0,1247.0 1260.9,1269.2 1262.8,1271.1 1264.8,1261.5 1266.7,1238.6 1268.6,1256.6 1270.5,1269.4 1272.4,1276.2 1274.4,1248.6 1276.3,1193.7 1278.2,1282.1 1280.1,1252.1 1282.0,1270.2 1284.0,1273.6 1285.9,1274.5 1287.8,1273.6 1289.7,1283.0 1291.7,1269.0 1293.6,1292.3 1295.5,1270.8 1297.4,1278.0 1299.3,1281.3 1301.3,1278.9 1303.2,1264.8 1305.1,1283.0 1307.0,1282.8 1309.0,1285.8 1310.9,1290.6 1312.8,1269.0 1314.7,1284.0 1316.6,1288.9 1318.6,1287.3 1320.5,1285.8 1322.4,1294.8 1324.3,1241.1 1326.3,1276.6 1328.2,1285.6 1330.1,1288.9 1332.0,1290.0 1333.9,1286.0 1335.9,1291.0 1337.8,1296.5 1339.7,1246.2 1341.6,1280.9 1343.5,1280.8 1345.5,1283.0 1347.4,1278.5 1349.3,1279.4 1351.2,1255.5 1353.2,1282.1 1355.1,1280.3 1357.0,1272.5 1358.9,1271.1 1360.8,1257.2 1362.8,1282.1 1364.7,1218.3 1366.6,1277.8 1368.5,1293.1 1370.5,1274.4 1372.4,1252.1 1374.3,1271.5 1376.2,1288.0 1378.2,1286.2 1380.1,1281.8 1382.0,1287.2 1383.9,1288.0 1385.8,1276.3 1387.8,1260.6 1389.7,1283.8 1391.6,1283.3 1393.5,1278.4 1395.5,1286.2 1397.4,1287.5 1399.3,1292.3 1401.2,1286.6 1403.1,1254.7 1405.1,1218.3 1407.0,1266.3 1408.9,1279.4 1410.8,1283.5 1412.8,1286.3 1414.7,1294.0 1416.6,1290.1 1418.5,1290.7 1420.4,1283.4 1422.4,1274.9 1424.3,1242.8 1426.2,1282.7 1428.1,1288.0 1430.0,1245.4 1432.0,1280.3 1433.9,1287.8 1435.8,1289.2 1437.7,1280.9 1439.7,1290.3 1441.6,1292.3 1443.5,1284.8 1445.4,1281.2 1447.3,1286.6 1449.3,1275.8 1451.2,1288.0 1453.1,1282.9 1455.0,1282.0 1457.0,1284.2 1458.9,1266.5 1460.8,1282.0 1462.7,1293.1 1464.7,1254.7 1466.6,1274.8 1468.5,1281.9 1470.4,1282.2 1472.3,1286.2 1474.3,1287.2 1476.2,1266.5 1478.1,1284.7 1480.0,1286.9 1482.0,1294.0 1483.9,1268.2 1485.8,1291.4 1487.7,1252.1 1489.6,1280.7 1491.6,1287.0 1493.5,1294.0 1495.4,1224.2 1497.3,1282.1 1499.2,1291.4 1501.2,1288.2 1503.1,1272.5 1505.0,1176.0 1506.9,1258.7 1508.8,1289.8 1510.8,1295.7 1512.7,1258.0 1514.6,1282.0 1516.5,1293.1 1518.5,1285.8 1520.4,1291.4 1522.3,1287.7 1524.2,1292.5 1526.2,1293.1 1528.1,1240.3 1530.0,1274.4 1531.9,1286.6 1533.8,1291.9 1535.8,1273.3 1537.7,1295.7 1539.6,1292.3 1541.5,1280.0 1543.5,1290.6 1545.4,1296.5 1547.3,1294.9 1549.2,1293.1 1551.1,1298.2 1553.1,1205.6 1555.0,1265.5 1556.9,1287.8 1558.8,1293.1 1560.8,1248.7 1562.7,1286.7 1564.6,1285.6 1566.5,1286.3 1568.4,1262.3 1570.4,1299.9 1572.3,1287.1 1574.2,1267.4 1576.1,1291.4 1578.0,1287.6 1580.0,1285.4 1581.9,1293.3 1583.8,1282.3 1585.7,1262.3 1587.7,1299.0 1589.6,1295.7 1591.5,1297.3 1593.4,1267.4 1595.3,1284.8 1597.3,1294.0 1599.2,1286.3 1601.1,1278.9 1603.0,1226.7 1605.0,1256.1 1606.9,1272.8 1608.8,1224.2 1610.7,1279.6 1612.7,1291.6 1614.6,1302.4 1616.5,1289.8 1618.4,1275.8 1620.3,1292.7 1622.3,1290.1 1624.2,1289.7 1626.1,1275.0 1628.0,1284.2 1630.0,1290.5 1631.9,1294.0 1633.8,1296.3 1635.7,1296.1 1637.6,1301.6 1639.6,1297.5 1641.5,1298.1 1643.4,1284.2 1645.3,1262.3 1647.2,1281.8 1649.2,1300.7 1651.1,1294.7 1653.0,1295.1 1654.9,1289.4 1656.9,1295.8 1658.8,1295.0 1660.7,1299.9 1662.6,1291.6 1664.5,1297.3 1666.5,1247.0 1668.4,1284.2 1670.3,1294.8 1672.2,1292.5 1674.2,1288.5 1676.1,1290.5 1678.0,1289.7 1679.9,1288.5 1681.8,1276.7 1683.8,1291.2 1685.7,1292.7 1687.6,1294.8 1689.5,1298.2 1691.5,1292.1 1693.4,1290.5 1695.3,1291.6 1697.2,1280.9 1699.1,1288.9 1701.1,1274.1 1703.0,1293.1 1704.9,1290.6 1706.8,1276.7 1708.8,1297.3 1710.7,1293.1 1712.6,1286.8 1714.5,1265.7 1716.4,1297.3 1718.4,1283.6 1720.3,1265.7 1722.2,1282.0 1724.1,1290.6 1726.0,1290.2 1728.0,1286.0 1729.9,1291.9 1731.8,1288.2 1733.7,1296.5 1735.7,1282.6 1737.6,1289.2 1739.5,1283.8 1741.4,1288.2 1743.3,1288.9 1745.3,1267.4 1747.2,1289.7 1749.1,1285.2 1751.0,1289.1 1753.0,1291.4 1754.9,1284.3 1756.8,1294.8 1758.7,1288.4 1760.7,1288.9 1762.6,1276.7 1764.5,1299.0 1766.4,1292.2 1768.3,1297.1 1770.3,1295.3 1772.2,1296.8 1774.1,1297.3 1776.0,1295.5 1778.0,1293.4 1779.9,1283.4 1781.8,1299.0 1783.7,1296.2 1785.6,1292.0 1787.6,1297.3 1789.5,1293.9 1791.4,1281.8 1793.3,1294.3 1795.2,1301.6 1797.2,1295.3 1799.1,1300.8 1801.0,1287.6 1802.9,1270.3 1804.9,1296.5 1806.8,1293.1 1808.7,1292.3 1810.6,1285.6 1812.5,1273.8 1814.5,1294.4 1816.4,1298.2 1818.3,1297.1 1820.2,1298.3 1822.2,1292.5 1824.1,1298.2 1826.0,1277.3 1827.9,1296.0 1829.8,1301.7 1831.8,1307.0 1833.7,1302.5 1835.6,1301.2 1837.5,1300.8 1839.5,1297.5 1841.4,1290.5 1843.3,1295.8 1845.2,1296.2 1847.1,1298.2 1849.1,1290.9 1851.0,1284.3 1852.9,1270.3 1854.8,1287.8 1856.8,1297.3 1858.7,1272.9 1860.6,1291.5 1862.5,1295.6 1864.4,1296.6 1866.4,1297.6 1868.3,1298.1 1870.2,1296.9 1872.1,1291.5 1874.0,1295.8 1876.0,1301.7 1877.9,1296.4 1879.8,1301.2 1881.7,1294.9 1883.7,1301.1 1885.6,1302.6 1887.5,1294.7 1889.4,1277.3 1891.3,1293.5 1893.3,1295.6 1895.2,1284.5 1897.1,1258.0 1899.0,1286.0 1901.0,1297.3 1902.9,1292.0 1904.8,1299.4 1906.7,1297.6 1908.7,1302.6 1910.6,1299.6 1912.5,1304.4 1914.4,1299.1 1916.3,1294.0 1918.3,1303.5 1920.2,1294.9 1922.1,1300.8 1924.0,1297.8 1926.0,1300.8 1927.9,1297.9 1929.8,1289.7 1931.7,1298.4 1933.6,1298.3 1935.6,1301.9 1937.5,1307.0 1939.4,1304.2 1941.3,1293.2 1943.2,1301.9 1945.2,1304.4 1947.1,1298.3 1949.0,1301.6 1950.9,1298.5 1952.9,1299.7 1954.8,1294.3 1956.7,1298.2 1958.6,1299.6 1960.5,1295.8 1962.5,1305.2 1964.4,1298.8 1966.3,1304.4 1968.2,1198.2 1970.2,1282.5 1972.1,1296.7 1974.0,1303.5 1975.9,1288.8 1977.8,1298.6 1979.8,1301.7 1981.7,1296.6 1983.6,1295.7 1985.5,1287.9 1987.5,1295.8 1989.4,1296.7 1991.3,1300.8 1993.2,1301.1 1995.2,1300.4 1997.1,1294.9 1999.0,1299.1 2000.9,1296.7 2002.8,1299.9 2004.8,1299.2 2006.7,1301.7 2008.6,1265.0 2010.5,1289.3 2012.4,1297.6 2014.4,1304.4 2016.3,1298.7 2018.2,1292.4 2020.1,1298.0 2022.1,1293.1 2024.0,1298.2 2025.9,1295.8 2027.8,1298.3 2029.7,1295.1 2031.7,1300.8 2033.6,1298.5 2035.5,1299.2 2037.4,1294.3 2039.3,1295.7 2041.3,1280.9 2043.2,1294.4 2045.1,1290.7 2047.0,1292.7 2049.0,1296.5 2050.9,1287.3 2052.8,1276.5 2054.7,1294.6 2056.7,1300.8 2058.6,1285.3 2060.5,1294.2 2062.4,1297.3 2064.3,1292.2 2066.3,1291.9 2068.2,1296.8 2070.1,1290.5 2072.0,1300.0 2073.9,1302.6 2075.9,1288.8 2077.8,1295.9 2079.7,1297.0 2081.6,1264.2 2083.6,1283.5 2085.5,1300.0 2087.4,1293.1 2089.3,1291.7 2091.2,1265.0 2093.2,1302.6 2095.1,1298.2 2097.0,1302.6 2098.9,1294.3 2100.9,1294.7 2102.8,1280.9 2104.7,1293.3 2106.6,1295.5 2108.6,1296.5 2110.5,1290.1 2112.4,1289.3 2114.3,1287.9 2116.2,1274.7 2118.2,1287.0 2120.1,1297.3 2122.0,1293.1 2123.9,1283.5 2125.8,1299.1 2127.8,1292.8 2129.7,1300.1 2131.6,1294.0 2133.5,1300.4 2135.5,1304.4 2137.4,1299.2 2139.3,1293.2 2141.2,1306.1 2143.2,1297.1 2145.1,1298.6 2147.0,1299.1 2148.9,1293.9 2150.8,1298.0 2152.8,1291.4 2154.7,1301.3 2156.6,1300.9 2158.5,1297.9 2160.4,1305.2 2162.4,1282.6 2164.3,1300.8 2166.2,1304.2 2168.1,1306.1 2170.1,1299.8 2172.0,1295.3 2173.9,1281.7 2175.8,1296.9 2177.8,1300.0 2179.7,1296.9 2181.6,1271.2 2183.5,1292.8 2185.4,1270.3 2187.4,1293.4 2189.3,1301.7" fill="none" stroke="#dc143c" stroke-width="5.5" stroke-linejoin="round" stroke-linecap="butt"/>
</g>
<line x1="269.10" y1="1368.7" x2="269.10" y2="1388.5" stroke="#000" stroke-width="5.0"/>
<text class="tick" transform="translate(269.10,1453.2) scale(1.004,1.027)" text-anchor="middle">0</text>
<line x1="653.52" y1="1368.7" x2="653.52" y2="1388.5" stroke="#000" stroke-width="5.0"/>
<text class="tick" transform="translate(653.52,1453.2) scale(1.004,1.027)" text-anchor="middle">200</text>
<line x1="1037.94" y1="1368.7" x2="1037.94" y2="1388.5" stroke="#000" stroke-width="5.0"/>
<text class="tick" transform="translate(1037.94,1453.2) scale(1.004,1.027)" text-anchor="middle">400</text>
<line x1="1422.36" y1="1368.7" x2="1422.36" y2="1388.5" stroke="#000" stroke-width="5.0"/>
<text class="tick" transform="translate(1422.36,1453.2) scale(1.004,1.027)" text-anchor="middle">600</text>
<line x1="1806.78" y1="1368.7" x2="1806.78" y2="1388.5" stroke="#000" stroke-width="5.0"/>
<text class="tick" transform="translate(1806.78,1453.2) scale(1.004,1.027)" text-anchor="middle">800</text>
<line x1="2191.20" y1="1368.7" x2="2191.20" y2="1388.5" stroke="#000" stroke-width="5.0"/>
<text class="tick" transform="translate(2191.20,1453.2) scale(1.004,1.027)" text-anchor="middle">1000</text>
<line x1="249.3" y1="1290.65" x2="269.1" y2="1290.65" stroke="#000" stroke-width="5.0"/>
<text class="tick" transform="translate(228.4,1312.95) scale(1.0,1.03)" text-anchor="end">0.10</text>
<line x1="249.3" y1="1095.61" x2="269.1" y2="1095.61" stroke="#000" stroke-width="5.0"/>
<text class="tick" transform="translate(228.4,1117.91) scale(1.0,1.03)" text-anchor="end">0.15</text>
<line x1="249.3" y1="900.57" x2="269.1" y2="900.57" stroke="#000" stroke-width="5.0"/>
<text class="tick" transform="translate(228.4,922.87) scale(1.0,1.03)" text-anchor="end">0.20</text>
<line x1="249.3" y1="705.53" x2="269.1" y2="705.53" stroke="#000" stroke-width="5.0"/>
<text class="tick" transform="translate(228.4,727.83) scale(1.0,1.03)" text-anchor="end">0.25</text>
<line x1="249.3" y1="510.48" x2="269.1" y2="510.48" stroke="#000" stroke-width="5.0"/>
<text class="tick" transform="translate(228.4,532.78) scale(1.0,1.03)" text-anchor="end">0.30</text>
<line x1="249.3" y1="315.44" x2="269.1" y2="315.44" stroke="#000" stroke-width="5.0"/>
<text class="tick" transform="translate(228.4,337.74) scale(1.0,1.03)" text-anchor="end">0.35</text>
<line x1="249.3" y1="120.40" x2="269.1" y2="120.40" stroke="#000" stroke-width="5.0"/>
<text class="tick" transform="translate(228.4,142.70) scale(1.0,1.03)" text-anchor="end">0.40</text>
<rect x="269.1" y="120.4" width="1922.1" height="1248.3" fill="none" stroke="#000" stroke-width="5.0" stroke-linejoin="miter"/>
<text class="title" x="1229.4" y="85.7" text-anchor="middle">Comparison Model MAE</text>
<text class="lab" transform="translate(1230.1,1531.3) scale(1,1.012)" text-anchor="middle">Number of epochs(1000 epochs)</text>
<text class="lab" transform="translate(71.2,750.4) rotate(-90)" text-anchor="middle">MAE</text>
<g>
<rect x="1803.2" y="149" width="359.6" height="270" rx="11" ry="11" fill="#fff" fill-opacity="0.8" stroke="#cccccc" stroke-opacity="0.8" stroke-width="5.6"/>
<line x1="1823" y1="195.3" x2="1944" y2="195.3" stroke="#0000ff" stroke-width="5.5"/>
<line x1="1823" y1="280" x2="1944" y2="280" stroke="#ffa500" stroke-width="5.5"/>
<line x1="1823" y1="364.3" x2="1944" y2="364.3" stroke="#dc143c" stroke-width="5.5"/>
<text class="leg" transform="translate(1986.3,216.4) scale(1,1.01)">MLP</text>
<text class="leg" transform="translate(1986.3,300.6) scale(1,1.01)">LSTM</text>
<text class="leg" transform="translate(1986.3,385.6) scale(1,1.01)">GRU</text>
</g>
</g>
</svg>
</body></html>
